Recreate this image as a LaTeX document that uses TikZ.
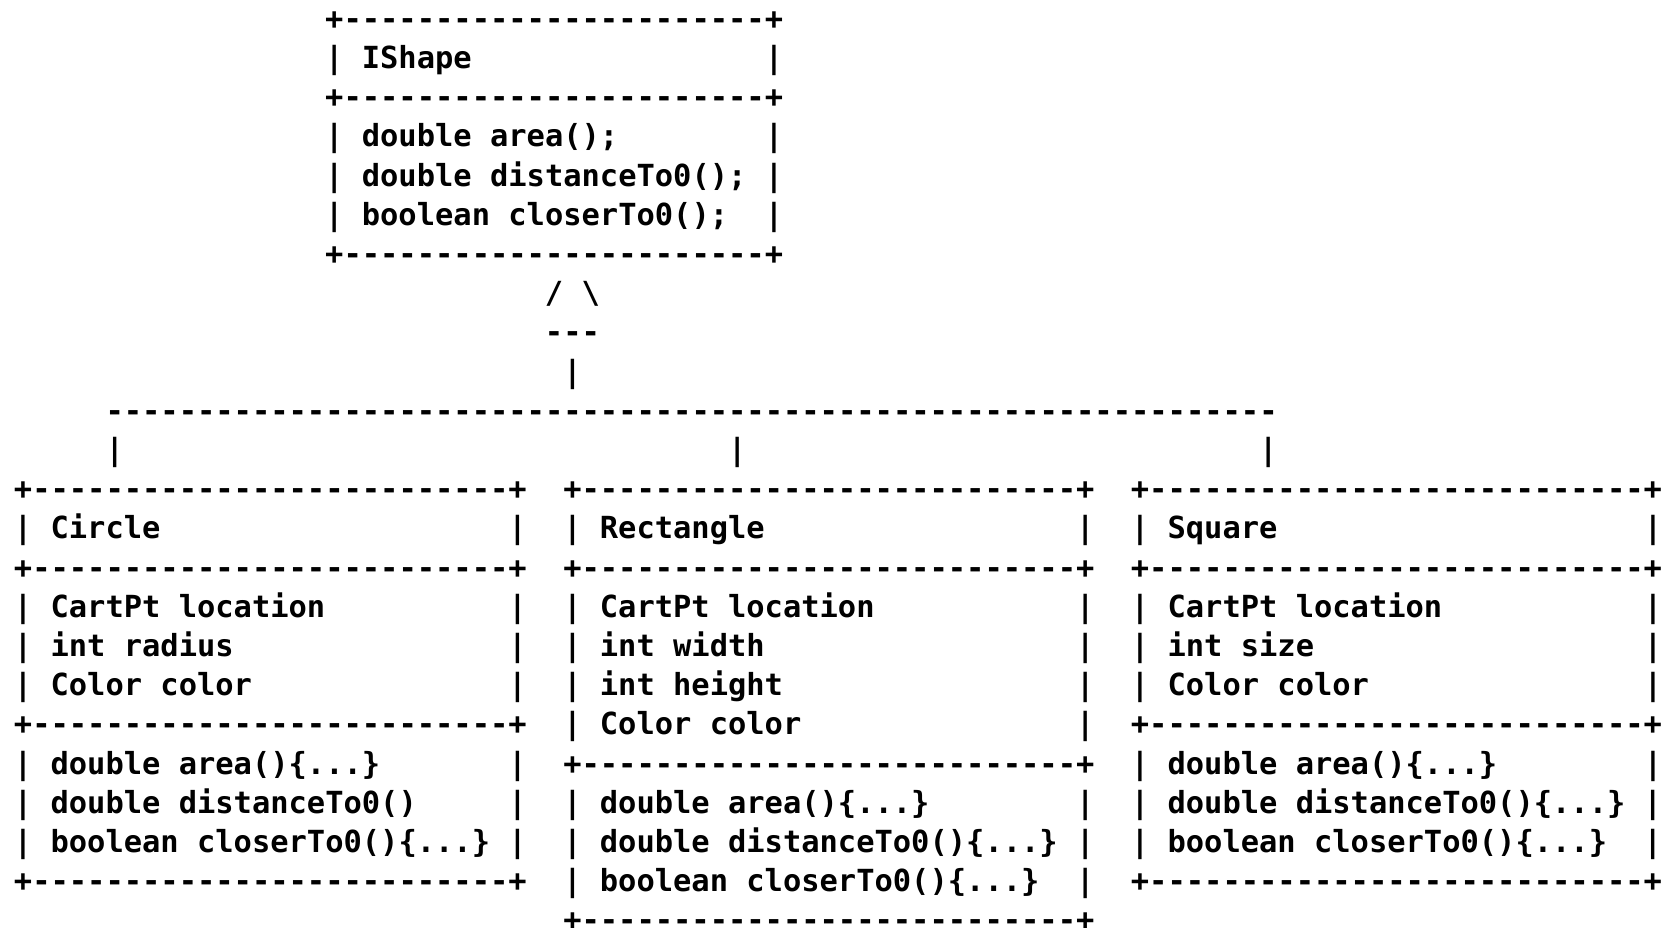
\documentclass[tikz,border=0pt]{standalone}
\usepackage{fontspec}
\setmonofont{DejaVu Sans Mono}
\newlength\cw
\newcommand\asciifont{\fontsize{15.21pt}{19.6pt}\selectfont\ttfamily\bfseries\frenchspacing\settowidth\cw{0}}
\newcommand\brd[1]{+\foreach\k in {1,...,#1}{-}+}
\newcommand\cls[2]{\textbar\makebox[#1\cw][l]{~#2}\textbar}
\begin{document}
\begin{tikzpicture}[x=9.155pt,y=-19.6pt,
	ascii/.style={font=\asciifont,inner sep=0pt,anchor=base west,align=left}]
	\useasboundingbox (-1.24,-0.518) rectangle (89.58,23.13);
	% interface (a box is placed by the base of its last line)
	\node[ascii] (ishape) at (16.5,6.23) {\brd{23}\\\cls{23}{IShape}\\\brd{23}\\
		\cls{23}{double area();}\\\cls{23}{double distanceTo0();}\\\cls{23}{boolean closerTo0();}\\\brd{23}};
	% inheritance arrow and bus
	\node[ascii] (tri) at (28.5,7.23) {/~\textbackslash};
	\node[ascii] (base) at (28.5,8.23) {---};
	\node[ascii] (trunk) at (29.5,9.23) {\textbar};
	\node[ascii] (bus) at (4.5,10.23) {\foreach\k in {1,...,64}{-}};
	\foreach \c/\n in {5/left,39/mid,68/right}
		\node[ascii] (drop\n) at (\c-0.5,11.23) {\textbar};
	% classes
	\node[ascii] (circlecls) at (-0.5,22.23) {\brd{26}\\\cls{26}{Circle}\\\brd{26}\\
		\cls{26}{CartPt location}\\\cls{26}{int radius}\\\cls{26}{Color color}\\\brd{26}\\
		\cls{26}{double area()\{...\}}\\\cls{26}{double distanceTo0()}\\\cls{26}{boolean closerTo0()\{...\}}\\\brd{26}};
	\node[ascii] (rectcls) at (29.5,23.23) {\brd{27}\\\cls{27}{Rectangle}\\\brd{27}\\
		\cls{27}{CartPt location}\\\cls{27}{int width}\\\cls{27}{int height}\\\cls{27}{Color color}\\\brd{27}\\
		\cls{27}{double area()\{...\}}\\\cls{27}{double distanceTo0()\{...\}}\\\cls{27}{boolean closerTo0()\{...\}}\\\brd{27}};
	\node[ascii] (squarecls) at (60.5,22.23) {\brd{27}\\\cls{27}{Square}\\\brd{27}\\
		\cls{27}{CartPt location}\\\cls{27}{int size}\\\cls{27}{Color color}\\\brd{27}\\
		\cls{27}{double area()\{...\}}\\\cls{27}{double distanceTo0()\{...\}}\\\cls{27}{boolean closerTo0()\{...\}}\\\brd{27}};
\end{tikzpicture}
\end{document}
